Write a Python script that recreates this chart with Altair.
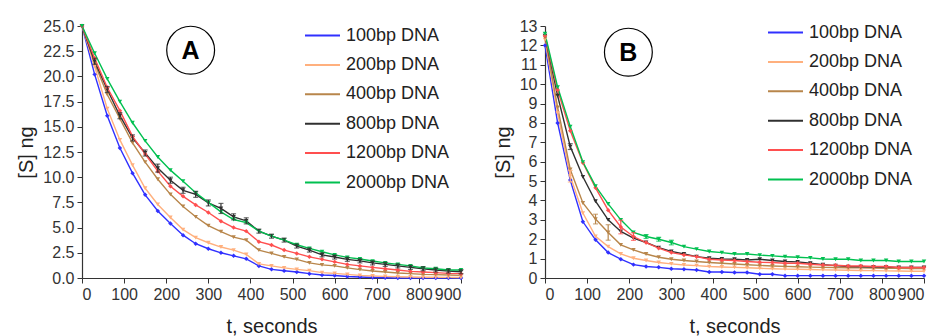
import altair as alt
import pandas as pd

t = list(range(0, 901, 30))

series = ["100bp DNA", "200bp DNA", "400bp DNA", "800bp DNA", "1200bp DNA", "2000bp DNA"]
colors = ["#3030ff", "#ffb07e", "#b8864b", "#303030", "#ff4f4f", "#00c050"]
shapes = ["diamond", "triangle-down", "triangle-down", "triangle-down", "diamond", "triangle-down"]

# Panel A values
a_100 = [25.0, 20.2, 16.1, 12.9, 10.4, 8.25, 6.65, 5.4, 4.25, 3.4, 2.9, 2.5, 2.2, 1.9, 1.2, 0.86,
         0.72, 0.6, 0.43, 0.3, 0.25, 0.15, 0.1, 0.05, 0.02, 0.0, 0.0, 0.0, 0.0, 0.0, 0.0]
a_200 = [25.0, 21.0, 16.8, 13.7, 11.2, 8.9, 7.3, 6.0, 4.8, 4.0, 3.5, 3.07, 2.77, 2.34, 1.4, 1.2,
         1.0, 0.86, 0.73, 0.53, 0.46, 0.36, 0.26, 0.2, 0.16, 0.13, 0.1, 0.08, 0.07, 0.06, 0.05]
a_400 = [25.0, 21.3, 18.2, 15.8, 13.4, 11.5, 9.8, 8.3, 7.1, 6.07, 5.2, 4.6, 4.05, 3.76, 2.77, 2.44,
         2.1, 1.85, 1.5, 1.3, 1.2, 1.0, 0.83, 0.7, 0.6, 0.5, 0.43, 0.36, 0.33, 0.3, 0.26]
a_800 = [25.0, 21.5, 18.7, 16.1, 13.9, 12.4, 10.9, 9.7, 8.7, 8.3, 7.45, 6.9, 6.07, 5.67, 4.65, 4.15,
         3.76, 3.17, 2.77, 2.3, 2.08, 1.85, 1.7, 1.5, 1.35, 1.2, 1.05, 0.92, 0.8, 0.7, 0.62]
a_1200 = [25.0, 21.8, 18.9, 16.6, 14.05, 12.3, 10.6, 9.1, 8.1, 7.25, 6.5, 5.64, 5.0, 4.65, 3.6, 3.27,
          2.77, 2.44, 2.1, 1.85, 1.6, 1.35, 1.2, 1.05, 0.92, 0.8, 0.66, 0.6, 0.53, 0.46, 0.43]
a_2000 = [25.0, 22.3, 19.75, 17.5, 15.4, 13.6, 12.0, 10.7, 9.6, 8.45, 7.5, 6.56, 5.8, 5.5, 4.65, 4.15,
          3.76, 3.3, 2.94, 2.6, 2.3, 2.05, 1.88, 1.68, 1.5, 1.35, 1.2, 1.0, 0.92, 0.8, 0.8]
a_err_800 = [0.0, 0.3, 0.3, 0.3, 0.3, 0.3, 0.4, 0.3, 0.3, 0.3, 0.3, 0.5, 0.3, 0.3, 0.2, 0.2,
             0.2, 0.2, 0.2, 0.2, 0.2, 0.2, 0.2, 0.2, 0.2, 0.2, 0.2, 0.2, 0.2, 0.2, 0.2]

# Panel B values
b_100 = [12.0, 8.0, 5.05, 2.9, 1.97, 1.31, 0.97, 0.69, 0.59, 0.55, 0.48, 0.45, 0.41, 0.31, 0.31, 0.28,
         0.28, 0.19, 0.19, 0.12, 0.12, 0.12, 0.12, 0.12, 0.12, 0.12, 0.12, 0.12, 0.12, 0.12, 0.12]
b_200 = [12.3, 8.5, 5.25, 3.35, 2.15, 1.62, 1.24, 1.02, 0.9, 0.8, 0.73, 0.67, 0.64, 0.59, 0.57, 0.55,
         0.53, 0.5, 0.48, 0.46, 0.45, 0.44, 0.42, 0.41, 0.4, 0.39, 0.38, 0.37, 0.36, 0.35, 0.35]
b_400 = [12.4, 8.8, 5.6, 3.87, 3.04, 2.35, 1.71, 1.45, 1.24, 1.07, 0.97, 0.9, 0.85, 0.8, 0.76, 0.72,
         0.68, 0.65, 0.62, 0.6, 0.58, 0.56, 0.55, 0.54, 0.53, 0.52, 0.51, 0.5, 0.5, 0.49, 0.49]
b_800 = [12.5, 9.4, 6.78, 5.22, 3.96, 3.0, 2.4, 2.06, 1.83, 1.57, 1.37, 1.24, 1.1, 1.02, 0.98, 0.97,
         0.93, 0.97, 0.9, 0.85, 0.83, 0.76, 0.69, 0.64, 0.59, 0.58, 0.57, 0.56, 0.55, 0.55, 0.55]
b_1200 = [12.5, 9.7, 7.6, 5.95, 4.65, 3.5, 2.63, 2.14, 1.83, 1.54, 1.31, 1.19, 1.1, 0.97, 0.93, 0.9,
          0.85, 0.81, 0.8, 0.76, 0.76, 0.71, 0.67, 0.66, 0.62, 0.62, 0.59, 0.59, 0.54, 0.54, 0.54]
b_2000 = [12.6, 9.85, 7.81, 5.98, 4.74, 3.82, 3.0, 2.35, 2.14, 2.0, 1.83, 1.62, 1.49, 1.37, 1.31, 1.24,
          1.24, 1.18, 1.14, 1.1, 1.07, 1.04, 0.98, 0.97, 0.97, 0.9, 0.9, 0.9, 0.85, 0.85, 0.85]
# sparse error bars in panel B: (series, t, error)
b_err = [("200bp DNA", 60, 0.3), ("400bp DNA", 120, 0.25), ("400bp DNA", 150, 0.4),
         ("1200bp DNA", 180, 0.35), ("1200bp DNA", 210, 0.2), ("800bp DNA", 60, 0.15),
         ("2000bp DNA", 240, 0.1), ("2000bp DNA", 270, 0.1), ("2000bp DNA", 300, 0.12)]

FONT = "Liberation Sans"
shape_of = dict(zip(series, shapes))


def long_df(vals):
    rows = []
    for name, v in zip(series, vals):
        for ti, yi in zip(t, v):
            rows.append({"t": ti, "y": yi, "series": name, "shp": shape_of[name]})
    return pd.DataFrame(rows)


df_a = long_df([a_100, a_200, a_400, a_800, a_1200, a_2000])
df_b = long_df([b_100, b_200, b_400, b_800, b_1200, b_2000])

err_a = pd.DataFrame({"t": t, "lo": [y - e for y, e in zip(a_800, a_err_800)],
                      "hi": [y + e for y, e in zip(a_800, a_err_800)], "series": "800bp DNA"})
err_a = err_a[err_a["hi"] > err_a["lo"]]
b_lookup = dict(zip(series, [b_100, b_200, b_400, b_800, b_1200, b_2000]))
err_b = pd.DataFrame([{"t": ti, "lo": b_lookup[s][t.index(ti)] - e, "hi": b_lookup[s][t.index(ti)] + e,
                       "series": s} for s, ti, e in b_err])

color_scale = alt.Scale(domain=series, range=colors)
shape_scale = alt.Scale(domain=["diamond", "triangle-down"], range=["diamond", "triangle-down"])


def panel(df, err, ymax, ystep, yfmt, letter, lx, ly, legx, legy):
    xaxis = alt.Axis(title="t, seconds", values=list(range(0, 901, 100)), labelOverlap=False)
    yvals = [round(i * ystep, 2) for i in range(int(round(ymax / ystep)) + 1)]
    yaxis = alt.Axis(title="[S] ng", format=yfmt, values=yvals, labelOverlap=False)
    xsc = alt.Scale(domain=[0, 900], nice=False)
    ysc = alt.Scale(domain=[0, ymax], nice=False)

    def X(f):
        return alt.X(f, scale=xsc, axis=xaxis)

    def Y(f):
        return alt.Y(f, scale=ysc, axis=yaxis)

    lines = alt.Chart(df).mark_line(strokeWidth=1.4).encode(
        x=X("t:Q"), y=Y("y:Q"),
        color=alt.Color("series:N", scale=color_scale, sort=series,
                        legend=alt.Legend(title=None, orient="none", legendX=legx, legendY=legy,
                                          symbolType="M-1.4,0H1.4", symbolSize=625, symbolStrokeWidth=2,
                                          labelFont=FONT, labelFontSize=18, labelColor="#222",
                                          labelOffset=10, rowPadding=6.4)),
    )
    pts = alt.Chart(df).mark_point(filled=True, size=20, opacity=1, strokeWidth=0).encode(
        x=X("t:Q"), y=Y("y:Q"),
        color=alt.Color("series:N", scale=color_scale, legend=None),
        shape=alt.Shape("shp:N", scale=shape_scale, legend=None),
    )
    bars = alt.Chart(err).mark_errorbar(ticks=True, thickness=1.2).encode(
        x=X("t:Q"), y=Y("lo:Q"), y2="hi:Q",
        color=alt.Color("series:N", scale=color_scale, legend=None),
    )
    ann = pd.DataFrame({"x": [lx], "y": [ly], "label": [letter]})
    circ = alt.Chart(ann).mark_point(shape="circle", size=2290, stroke="black", strokeWidth=1.2,
                                     filled=False, opacity=1).encode(x=X("x:Q"), y=Y("y:Q"))
    txt = alt.Chart(ann).mark_text(font=FONT, fontSize=25, fontWeight="bold", color="black",
                                   baseline="middle", dy=1).encode(x=X("x:Q"), y=Y("y:Q"), text="label:N")
    return alt.layer(lines, pts, bars, circ, txt).properties(width=379, height=252)


pa = panel(df_a, err_a, 25, 2.5, ".1f", "A", 258, 22.6, 227, -4)
pb = panel(df_b, err_b, 13, 1, "d", "B", 198, 11.65, 227, -7)

chart = alt.hconcat(pa, pb, spacing=29).resolve_scale(
    color="independent", shape="independent").resolve_legend(
    color="independent").properties(
    padding={"left": 8, "top": 10, "right": 0, "bottom": 0}
).configure_view(stroke=None).configure_axis(
    grid=False, domainColor="#333", tickColor="#333", domainWidth=1.2, tickSize=5,
    labelFont=FONT, labelFontSize=16, labelColor="#333", labelPadding=3,
    titleFont=FONT, titleFontSize=20, titleFontWeight="normal", titleColor="#222",
).configure_axisX(titlePadding=14).configure_axisY(titlePadding=6)

chart.save("out.html", embed_options={"renderer": "svg", "actions": False})
